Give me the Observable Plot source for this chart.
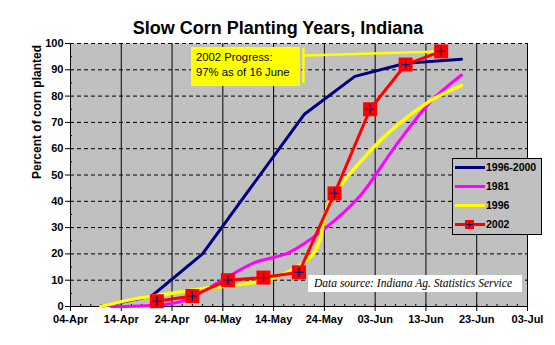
<!DOCTYPE html>
<html>
<head>
<meta charset="utf-8">
<script src="https://cdn.jsdelivr.net/npm/d3@7"></script>
<script src="https://cdn.jsdelivr.net/npm/@observablehq/plot@0.6"></script>
<style>
  html, body { margin: 0; padding: 0; background: #ffffff; }
  #chart { position: relative; width: 555px; height: 345px; font-family: Arial, "Liberation Sans", sans-serif; }
  #chart svg { position: absolute; left: 0; top: 0; }
  .note { position: absolute; left: 191px; top: 47px; width: 109px; height: 39px; background: #ffff00; color: #000;
          font-size: 11.3px; line-height: 15px; padding: 3px 0 0 5px; box-sizing: border-box; white-space: nowrap; }
  .source { position: absolute; left: 308px; top: 275px; width: 214px; height: 17px; background: #ffffff; color: #000;
            font-family: "Liberation Serif", "Times New Roman", serif; font-style: italic; font-size: 11.5px;
            line-height: 17px; padding-left: 6px; box-sizing: border-box; white-space: nowrap; }
  .legend { position: absolute; left: 452px; top: 158px; width: 90px; height: 77px; background: #c0c0c0;
            border: 1px solid #000; box-sizing: border-box; }
  .legend .item { position: absolute; left: 0; width: 88px; height: 19px; }
  .legend .swatch { position: absolute; left: 2px; top: 8px; width: 30px; height: 3px; }
  .legend .mk { position: absolute; left: 12px; top: 5px; width: 9px; height: 9px; background: #ff0000; }
  .legend .ph { position: absolute; left: 13px; top: 9px; width: 7px; height: 1px; background: #000080; }
  .legend .pv { position: absolute; left: 16px; top: 6px; width: 1px; height: 7px; background: #000080; }
  .legend .label { position: absolute; left: 33px; top: 0; line-height: 19px; font-weight: bold; font-size: 10.5px; color: #000; }
</style>
</head>
<body>
<div id="chart"></div>
<script>
// ---------- data ----------
const seriesNames  = ["1996-2000", "1981", "1996", "2002"];
const seriesColors = ["#000080", "#ff00ff", "#ffff00", "#ff0000"];

const avgDates  = ["2002-04-10", "2002-04-20", "2002-04-30", "2002-05-10", "2002-05-20", "2002-05-30", "2002-06-09", "2002-06-20"];
const avgValues = [0, 4, 20, 46.5, 73, 87.5, 92.5, 94];

const y1981Dates  = ["2002-04-12", "2002-04-19", "2002-04-26", "2002-05-03", "2002-05-10", "2002-05-17", "2002-05-24", "2002-05-31", "2002-06-07", "2002-06-14", "2002-06-20"];
const y1981Values = [0, 0.3, 2, 9, 16.5, 20.5, 29.5, 42, 61, 78, 88];

const y1996Dates  = ["2002-04-10", "2002-04-17", "2002-04-24", "2002-05-01", "2002-05-08", "2002-05-15", "2002-05-22", "2002-05-25", "2002-06-01", "2002-06-08", "2002-06-15", "2002-06-20"];
const y1996Values = [0, 3, 5, 7, 8.5, 11.5, 20.5, 39.5, 57, 70, 79.5, 84];

const y2002Dates  = ["2002-04-21", "2002-04-28", "2002-05-05", "2002-05-12", "2002-05-19", "2002-05-26", "2002-06-02", "2002-06-09", "2002-06-16"];
const y2002Values = [2, 4, 10, 11, 13, 43, 75, 92, 97];

const xTickDates = ["2002-04-04", "2002-04-14", "2002-04-24", "2002-05-04", "2002-05-14", "2002-05-24", "2002-06-03", "2002-06-13", "2002-06-23", "2002-07-03"];
const yTicks = [0, 10, 20, 30, 40, 50, 60, 70, 80, 90, 100];

const titleText  = "Slow Corn Planting Years, Indiana";
const yLabelText = "Percent of corn planted";
const noteLines  = ["2002 Progress:", "97% as of 16 June"];
const sourceText = "Data source: Indiana Ag. Statistics Service";

// ---------- build ----------
const parse = d3.utcParse("%Y-%m-%d");
const rows = (dates, values) => dates.map((d, i) => ({date: parse(d), value: values[i]}));
const avg = rows(avgDates, avgValues);
const s1981 = rows(y1981Dates, y1981Values);
const s1996 = rows(y1996Dates, y1996Values);
const s2002 = rows(y2002Dates, y2002Values);
const xTicks = xTickDates.map(parse);
const xDomain = [xTicks[0], xTicks[xTicks.length - 1]];
const minorX = d3.range(0, d3.utcDay.count(xDomain[0], xDomain[1]) + 1, 2).map(i => d3.utcDay.offset(xDomain[0], i));
const minorY = d3.range(5, 100, 10);

const W = 555, H = 345, mT = 43, mB = 39, mL = 70, mR = 28;
const xS = Plot.scale({x: {type: "utc", domain: xDomain, range: [mL, W - mR]}});
const yS = Plot.scale({y: {domain: [0, 100], range: [H - mB, mT]}});
const calloutX = xS.invert(303);
const last2002 = s2002[s2002.length - 1];

const lineW = 3;
const chart = Plot.plot({
  width: W, height: H,
  marginTop: mT, marginBottom: mB, marginLeft: mL, marginRight: mR,
  style: {fontFamily: "Arial, 'Liberation Sans', sans-serif", fontSize: "11px", background: "transparent", color: "#000"},
  x: {type: "utc", domain: xDomain},
  y: {domain: [0, 100]},
  marks: [
    Plot.frame({fill: "#c0c0c0", stroke: "none"}),
    Plot.ruleY(yTicks.filter(v => v > 0), {stroke: "#000", strokeWidth: 1, strokeDasharray: "4,3"}),
    Plot.ruleX(xTicks, {stroke: "#000", strokeWidth: 1}),
    Plot.ruleY([0], {stroke: "#000", strokeWidth: 1}),
    Plot.ruleX(minorX, {stroke: "#000", insetTop: (H - mT - mB) - 2}),
    Plot.ruleY(minorY, {stroke: "#000", insetRight: (W - mL - mR) - 2}),
    Plot.axisX({ticks: xTicks, tickFormat: d3.utcFormat("%d-%b"), tickSize: 5, tickPadding: 4,
                fontWeight: "bold", fontSize: 11, label: null}),
    Plot.axisY({ticks: yTicks, tickSize: 5, tickPadding: 2, fontWeight: "bold", fontSize: 11, label: null}),
    Plot.text([titleText], {frameAnchor: "top", dx: -21, dy: -22, fontSize: 18, fontWeight: "bold"}),
    Plot.text([yLabelText], {frameAnchor: "left", dx: -33, dy: 4, rotate: -90, fontSize: 12, fontWeight: "bold"}),
    Plot.line(avg,   {x: "date", y: "value", stroke: seriesColors[0], strokeWidth: lineW}),
    Plot.line(s1981, {x: "date", y: "value", stroke: seriesColors[1], strokeWidth: lineW, curve: "catmull-rom"}),
    Plot.line(s1996, {x: "date", y: "value", stroke: seriesColors[2], strokeWidth: lineW + 0.5, curve: "catmull-rom"}),
    Plot.ruleX([calloutX], {y1: yS.invert(83), y2: yS.invert(48), stroke: "#ffff00", strokeWidth: 2.5}),
    Plot.link([last2002], {x1: () => calloutX, y1: () => yS.invert(55), x2: "date", y2: "value",
                           stroke: "#ffff00", strokeWidth: 2.5}),
    Plot.line(s2002, {x: "date", y: "value", stroke: seriesColors[3], strokeWidth: lineW}),
    Plot.dot(s2002, {x: "date", y: "value", symbol: "square", r: 7.9, fill: "#ff0000", stroke: "none"}),
    Plot.dot(s2002, {x: "date", y: "value", symbol: "plus", r: 3.1, stroke: "#000080", strokeWidth: 1.2})
  ]
});

const root = document.getElementById("chart");
root.appendChild(chart);

// annotation box
const note = document.createElement("div");
note.className = "note";
note.innerHTML = noteLines.map(t => `<div>${t}</div>`).join("");
root.appendChild(note);

// source box
const src = document.createElement("div");
src.className = "source";
src.textContent = sourceText;
root.appendChild(src);

// legend
const legend = document.createElement("div");
legend.className = "legend";
seriesNames.forEach((name, i) => {
  const item = document.createElement("div");
  item.className = "item";
  item.style.top = (-1 + i * 19) + "px";
  let html = `<div class="swatch" style="background:${seriesColors[i]}"></div>`;
  if (name === "2002") html += `<div class="mk"></div><div class="ph"></div><div class="pv"></div>`;
  html += `<div class="label">${name}</div>`;
  item.innerHTML = html;
  legend.appendChild(item);
});
root.appendChild(legend);
</script>
</body>
</html>
